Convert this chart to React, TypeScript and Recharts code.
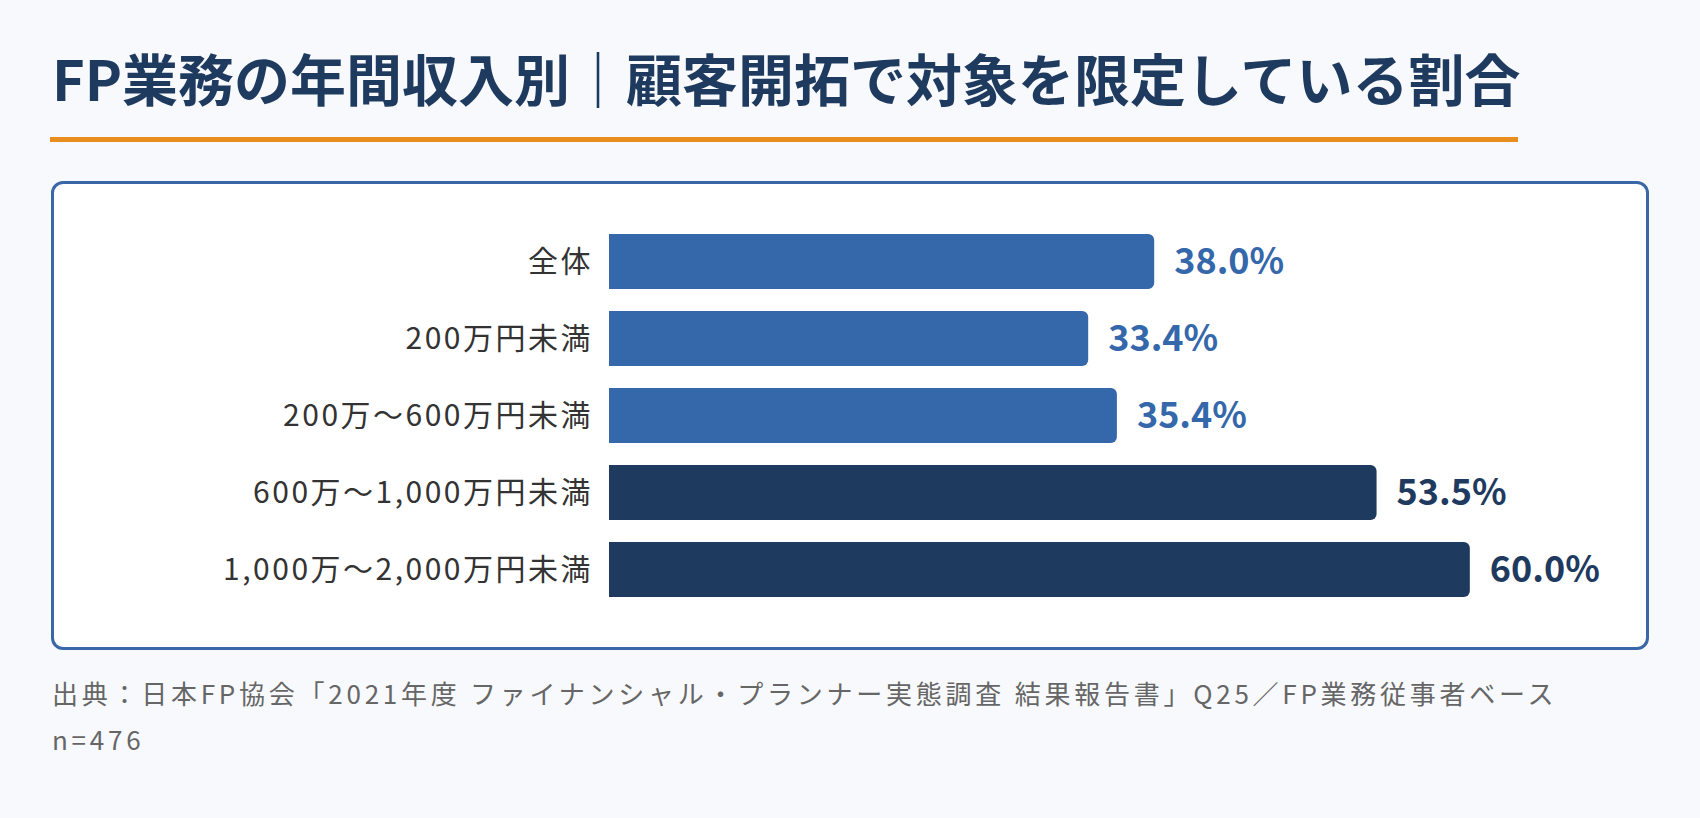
import React from 'react';
import { BarChart, Bar, XAxis, YAxis, Cell, LabelList } from 'recharts';

// 年間収入別の区分と「対象を限定している」割合（%）
const categories = [
  '全体',
  '200万円未満',
  '200万～600万円未満',
  '600万～1,000万円未満',
  '1,000万～2,000万円未満',
];
const shares = [38.0, 33.4, 35.4, 53.5, 60.0];

const titleText = 'FP業務の年間収入別｜顧客開拓で対象を限定している割合';
const sourceText = '出典：日本FP協会「2021年度 ファイナンシャル・プランナー実態調査 結果報告書」Q25／FP業務従事者ベース';
const sampleText = 'n=476';

const LIGHT = '#3567ab';
const DARK = '#1f3a5f';
const barColors = [LIGHT, LIGHT, LIGHT, DARK, DARK];

const chartData = categories.map((name, i) => ({ name, value: shares[i] }));

const FONT = '"Noto Sans CJK JP", "Noto Sans", sans-serif';

const CategoryTick = (props: any) => {
  const { x, y, payload } = props;
  return (
    <text
      x={x + 2}
      y={y}
      dy="0.355em"
      textAnchor="end"
      fontFamily={FONT}
      fontSize={30}
      fill="#333333"
      style={{ letterSpacing: 2.5 }}
    >
      {payload.value}
    </text>
  );
};

const ValueLabel = (props: any) => {
  const { x, y, width, height, value, index } = props;
  return (
    <text
      x={x + width + 20}
      y={y + height / 2}
      dy="0.355em"
      fontFamily={FONT}
      fontWeight={700}
      fontSize={36}
      fill={barColors[index]}
    >
      {`${Number(value).toFixed(1)}%`}
    </text>
  );
};

const App: React.FC = () => {
  return (
    <div
      style={{
        position: 'fixed',
        left: 0,
        top: 0,
        width: 1700,
        height: 818,
        background: '#f7f9fc',
        fontFamily: FONT,
        overflow: 'hidden',
      }}
    >
      <div
        style={{
          position: 'absolute',
          left: 52,
          top: 49,
          fontSize: 56,
          lineHeight: '56px',
          fontWeight: 700,
          color: DARK,
          whiteSpace: 'nowrap',
        }}
      >
        {titleText}
      </div>
      <div style={{ position: 'absolute', left: 50, top: 137, width: 1468, height: 5, background: '#e88e1e' }} />

      <div
        style={{
          position: 'absolute',
          left: 51,
          top: 181,
          width: 1598,
          height: 469,
          boxSizing: 'border-box',
          border: '3px solid #3a67a8',
          borderRadius: 12,
          background: '#ffffff',
        }}
      />
      <div style={{ position: 'absolute', left: 51, top: 181 }}>
        <BarChart
          width={1598}
          height={469}
          data={chartData}
          layout="vertical"
          margin={{ top: 42, right: 7, bottom: 42, left: 0 }}
        >
          <XAxis type="number" domain={[0, 72]} hide />
          <YAxis
            type="category"
            dataKey="name"
            width={558}
            axisLine={false}
            tickLine={false}
            tickSize={0}
            tickMargin={18}
            tick={<CategoryTick />}
            interval={0}
          />
          <Bar dataKey="value" barSize={55} radius={[0, 6, 6, 0]} isAnimationActive={false}>
            {chartData.map((d, i) => (
              <Cell key={d.name} fill={barColors[i]} />
            ))}
            <LabelList dataKey="value" content={<ValueLabel />} />
          </Bar>
        </BarChart>
      </div>

      <div
        style={{
          position: 'absolute',
          left: 52,
          top: 670,
          fontSize: 26,
          lineHeight: '46px',
          color: '#666666',
          letterSpacing: 3.75,
          whiteSpace: 'nowrap',
        }}
      >
        <div>{sourceText}</div>
        <div>{sampleText}</div>
      </div>
    </div>
  );
};

export default App;
